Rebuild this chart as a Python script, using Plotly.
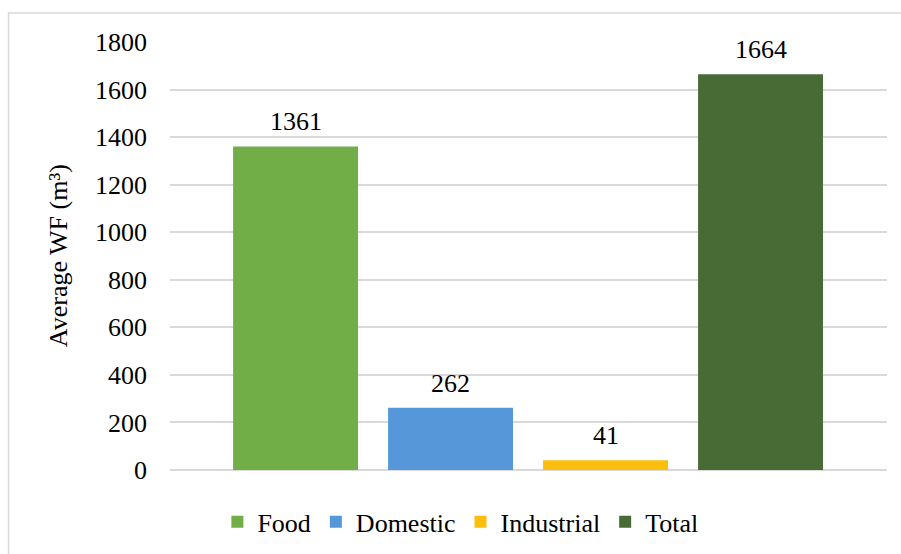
import plotly.graph_objects as go

# Average water footprint by use
categories = ["Food", "Domestic", "Industrial", "Total"]
values = [1361, 262, 41, 1664]
colors = ["#71ae48", "#5597d8", "#fbbe0c", "#486b35"]

y_ticks = [0, 200, 400, 600, 800, 1000, 1200, 1400, 1600, 1800]

FONT = "Liberation Serif"

fig = go.Figure()
for name, val, col in zip(categories, values, colors):
    fig.add_trace(go.Bar(
        x=[name], y=[val], name=name,
        width=0.806,
        marker=dict(color=col, line=dict(width=0)),
        hoverinfo="x+y",
    ))

# value labels above each bar
for name, val in zip(categories, values):
    fig.add_annotation(
        x=name, y=val, text=str(val), showarrow=False,
        xref="x", yref="y", yanchor="bottom", yshift=8,
        font=dict(family=FONT, size=26, color="#000000"),
    )

# vertical axis title
fig.add_annotation(
    x=-0.156, y=0.5, xref="paper", yref="paper",
    text="Average WF (m³)", textangle=-90, showarrow=False,
    xanchor="center", yanchor="middle",
    font=dict(family=FONT, size=26, color="#000000"),
)

# outer chart border
fig.add_shape(
    type="rect", xref="paper", yref="paper",
    x0=-0.2252, x1=1.2, y0=-0.3, y1=1.0678,
    line=dict(color="#d9d9d9", width=1.5), fillcolor="rgba(0,0,0,0)",
    layer="below",
)

fig.update_layout(
    width=901, height=554,
    margin=dict(l=170, r=14, t=42, b=84),
    paper_bgcolor="#ffffff", plot_bgcolor="#ffffff",
    barmode="overlay",
    showlegend=True,
    legend=dict(
        orientation="h", x=0.405, xanchor="center",
        yref="container", y=0.058, yanchor="middle",
        font=dict(family=FONT, size=26, color="#000000"),
        itemclick=False, itemdoubleclick=False,
    ),
    font=dict(family=FONT, size=26, color="#000000"),
    xaxis=dict(
        type="category", categoryorder="array", categoryarray=categories,
        range=[-0.81, 3.816], showticklabels=False, showgrid=False,
        zeroline=False, showline=False, ticks="",
    ),
    yaxis=dict(
        range=[0, 1800], tickvals=y_ticks, ticktext=[str(t) for t in y_ticks],
        showgrid=True, gridcolor="#d9d9d9", gridwidth=1.5,
        zeroline=True, zerolinecolor="#d9d9d9", zerolinewidth=1.5,
        showline=False, ticks="", ticklabelstandoff=22,
        tickfont=dict(family=FONT, size=26, color="#000000"),
    ),
)

fig.write_html("out.html")
